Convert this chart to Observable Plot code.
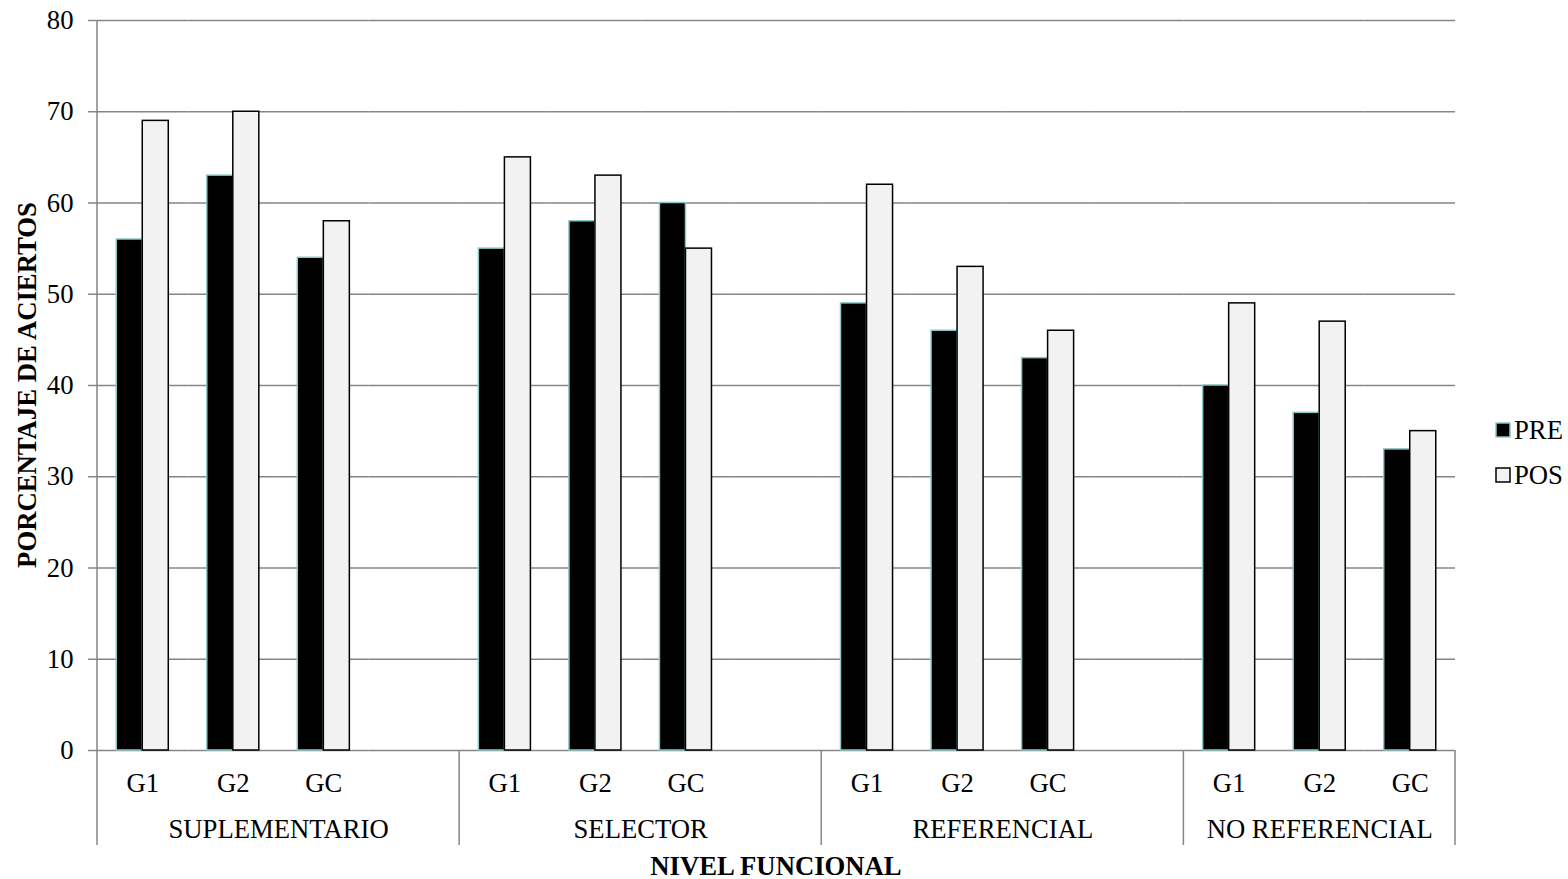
<!DOCTYPE html>
<html>
<head>
<meta charset="utf-8">
<script src="https://cdn.jsdelivr.net/npm/d3@7"></script>
<script src="https://cdn.jsdelivr.net/npm/@observablehq/plot@0.6"></script>
<style>
  body { margin: 0; background: #fff; }
  #chart { width: 1568px; height: 879px; }
  #chart svg text { font-family: "Liberation Serif", "Times New Roman", serif; }
</style>
</head>
<body>
<div id="chart"></div>
<script>
// Functional levels (outer categories) and groups within each level
const levels = ["SUPLEMENTARIO", "SELECTOR", "REFERENCIAL", "NO REFERENCIAL"];
const groups = ["G1", "G2", "GC"];
const phases = ["PRE", "POS"];

// Percentage of correct answers, one row per level, one value per group
const preValues = [
  [56, 63, 54],
  [55, 58, 60],
  [49, 46, 43],
  [40, 37, 33]
];
const posValues = [
  [69, 70, 58],
  [65, 63, 55],
  [62, 53, 46],
  [49, 47, 35]
];

const yTicks = [0, 10, 20, 30, 40, 50, 60, 70, 80];

// Category slots along the x axis: each level gets its groups plus an empty spacer
// slot (except the last level)
const slots = [];
levels.forEach((lvl, i) => {
  groups.forEach(g => slots.push(`${lvl}|${g}`));
  if (i < levels.length - 1) slots.push(`${lvl}|`);
});

const rows = [];
levels.forEach((lvl, i) => {
  groups.forEach((g, j) => {
    rows.push({slot: `${lvl}|${g}`, phase: "PRE", value: preValues[i][j]});
    rows.push({slot: `${lvl}|${g}`, phase: "POS", value: posValues[i][j]});
  });
});

// Horizontal gridlines, drawn in every slot so spacer slots are kept too
const gridRows = slots.flatMap(slot => yTicks.map(tick => ({slot, tick})));

const GRID = "#868686";
const FS = 26.7;

// Level labels are centred under each level's span: for the first three levels
// that is the right edge of the G2 slot, for the last one the G2 slot centre.
const levelLabels = levels.map((lvl, i) => ({
  slot: `${lvl}|G2`, name: lvl, last: i === levels.length - 1
}));

const chart = Plot.plot({
  width: 1568,
  height: 879,
  marginLeft: 97,
  marginRight: 113,
  marginTop: 20,
  marginBottom: 129,
  style: {fontSize: `${FS}px`, background: "white", color: "black", overflow: "visible"},
  fx: {domain: slots, padding: 0, round: false, label: null, axis: null},
  x: {domain: phases, paddingInner: 0, paddingOuter: 0.74, round: false, axis: null},
  y: {domain: [0, 80], label: null, axis: null},
  marks: [
    Plot.ruleY(gridRows, {fx: "slot", y: "tick", stroke: GRID, strokeWidth: 1.5}),
    Plot.axisY({ticks: yTicks, tickSize: 9, tickPadding: 15, stroke: GRID, strokeWidth: 1.5,
      fill: "black", label: null, fontSize: FS, facetAnchor: "left"}),
    Plot.barY(rows.filter(d => d.phase === "PRE"),
      {fx: "slot", x: "phase", y: "value", fill: "#000", stroke: "#8cc6c6", strokeWidth: 1.5}),
    Plot.barY(rows.filter(d => d.phase === "POS"),
      {fx: "slot", x: "phase", y: "value", fill: "#f2f2f2", stroke: "#000", strokeWidth: 1.5}),
    Plot.axisFx({anchor: "bottom", tickSize: 0, tickPadding: 23, label: null,
      tickFormat: s => s.split("|")[1], fontSize: FS, fill: "black"}),
    Plot.text(levelLabels.filter(d => !d.last),
      {fx: "slot", text: "name", frameAnchor: "bottom-right", textAnchor: "middle", lineAnchor: "middle",
       dy: 79, fontSize: FS, fill: "black"}),
    Plot.text(levelLabels.filter(d => d.last),
      {fx: "slot", text: "name", frameAnchor: "bottom", textAnchor: "middle", lineAnchor: "middle",
       dy: 79, fontSize: FS, fill: "black"})
  ]
});

document.getElementById("chart").append(chart);

// Level separators, y-axis line, axis titles and legend
const svg = d3.select(chart);
const fx = chart.scale("fx");
const y = chart.scale("y");
const y0 = y.apply(0);
const yTop = y.apply(80);
const levelStarts = levels.map(lvl => fx.apply(`${lvl}|G1`));
const levelEnd = fx.apply(slots[slots.length - 1]) + fx.bandwidth;

const deco = svg.append("g").attr("stroke", GRID).attr("stroke-width", 1.5);
deco.append("line").attr("x1", levelStarts[0]).attr("x2", levelStarts[0]).attr("y1", yTop).attr("y2", y0 + 95);
[...levelStarts.slice(1), levelEnd].forEach(x =>
  deco.append("line").attr("x1", x).attr("x2", x).attr("y1", y0).attr("y2", y0 + 95));

const titles = svg.append("g").attr("font-weight", "bold")
  .attr("font-size", FS).attr("fill", "black").attr("text-anchor", "middle");
titles.append("text")
  .attr("transform", `translate(27,${(y0 + yTop) / 2}) rotate(-90)`)
  .attr("dy", "0.35em")
  .text("PORCENTAJE DE ACIERTOS");
titles.append("text")
  .attr("x", (levelStarts[0] + levelEnd) / 2)
  .attr("y", y0 + 116)
  .attr("dy", "0.35em")
  .text("NIVEL FUNCIONAL");

const legendItems = [
  {name: "PRE", fill: "#000", stroke: "#8cc6c6"},
  {name: "POS", fill: "#f2f2f2", stroke: "#000"}
];
const legend = svg.append("g").attr("font-size", FS).attr("text-anchor", "start");
legendItems.forEach((d, i) => {
  const cy = 430 + i * 45;
  legend.append("rect").attr("x", 1496).attr("y", cy - 7).attr("width", 14).attr("height", 14)
    .attr("fill", d.fill).attr("stroke", d.stroke).attr("stroke-width", 1.5);
  legend.append("text").attr("x", 1514).attr("y", cy).attr("dy", "0.35em").attr("fill", "black").text(d.name);
});
</script>
</body>
</html>
